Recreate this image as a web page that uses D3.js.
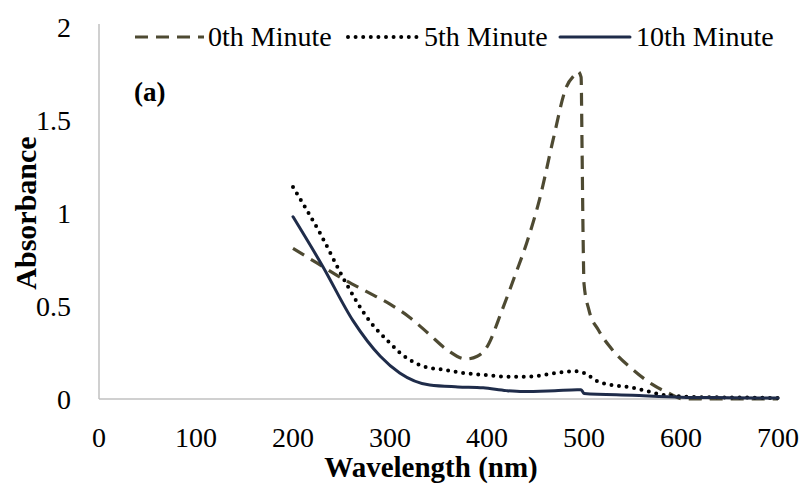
<!DOCTYPE html>
<html>
<head>
<meta charset="utf-8">
<script src="https://cdn.jsdelivr.net/npm/d3@7"></script>
<style>
  body { margin: 0; background: #fff; }
</style>
</head>
<body>
<svg id="chart"></svg>
<script>
// wavelength (nm) / absorbance
const wl0 = [200, 225, 250, 275, 300, 320, 340, 360, 378, 390, 400, 415, 430, 441, 455, 468, 482, 490, 494, 497, 498, 499, 500, 505, 515, 530, 550, 570, 590, 602, 640, 700];
const abs0 = [0.81, 0.73, 0.65, 0.58, 0.51, 0.44, 0.35, 0.26, 0.215, 0.23, 0.28, 0.47, 0.68, 0.84, 1.09, 1.39, 1.68, 1.74, 1.76, 1.73, 1.35, 0.9, 0.62, 0.48, 0.37, 0.26, 0.16, 0.08, 0.025, 0.0, 0.0, 0.0];

const wl5 = [200, 228, 255, 276, 300, 310, 338, 352, 375, 396, 420, 441, 472, 490, 500, 516, 551, 585, 620, 660, 700];
const abs5 = [1.14, 0.89, 0.62, 0.44, 0.30, 0.25, 0.17, 0.16, 0.14, 0.13, 0.12, 0.12, 0.14, 0.15, 0.14, 0.09, 0.06, 0.02, 0.01, 0.008, 0.005];

const wl10 = [200, 231, 262, 290, 310, 341, 370, 396, 420, 437, 470, 493, 497, 500, 550, 600, 650, 700];
const abs10 = [0.98, 0.71, 0.42, 0.23, 0.14, 0.075, 0.065, 0.06, 0.045, 0.04, 0.045, 0.05, 0.05, 0.03, 0.02, 0.01, 0.007, 0.005];

const seriesNames = ["0th Minute", "5th Minute", "10th Minute"];
const xTicks = [0, 100, 200, 300, 400, 500, 600, 700];
const yTicks = [0, 0.5, 1, 1.5, 2];

const width = 805, height = 486;
const svg = d3.select("#chart")
  .attr("width", width).attr("height", height)
  .attr("font-family", "Liberation Serif");

const x = d3.scaleLinear().domain([0, 700]).range([99, 778]);
const y = d3.scaleLinear().domain([0, 2]).range([399, 27]);

const styles = [
  { color: "#4e4a32", dash: "13,8", width: 3.2, cap: "butt" },
  { color: "#000000", dash: "0,7.6", width: 4, cap: "round" },
  { color: "#1f2c4a", dash: null, width: 3, cap: "round" }
];

const series = [
  wl0.map((w, i) => [w, abs0[i]]),
  wl5.map((w, i) => [w, abs5[i]]),
  wl10.map((w, i) => [w, abs10[i]])
];

// axes lines (no ticks)
svg.append("line")
  .attr("x1", x(0)).attr("x2", x(0))
  .attr("y1", 24).attr("y2", y(0))
  .attr("stroke", "#c0c0c0").attr("stroke-width", 1.5);
svg.append("line")
  .attr("x1", x(0)).attr("x2", x(700))
  .attr("y1", y(0)).attr("y2", y(0))
  .attr("stroke", "#c0c0c0").attr("stroke-width", 1.5);

svg.selectAll("text.xtick")
  .data(xTicks)
  .enter().append("text")
  .attr("class", "xtick")
  .attr("x", d => x(d))
  .attr("y", 447)
  .attr("text-anchor", "middle")
  .attr("font-size", 28)
  .text(d => d);

svg.selectAll("text.ytick")
  .data(yTicks)
  .enter().append("text")
  .attr("class", "ytick")
  .attr("x", 71)
  .attr("y", d => y(d))
  .attr("dy", "0.35em")
  .attr("text-anchor", "end")
  .attr("font-size", 28)
  .text(d => d);

const line = d3.line()
  .x(d => x(d[0]))
  .y(d => y(d[1]))
  .curve(d3.curveMonotoneX);

series.forEach((s, i) => {
  const st = styles[i];
  svg.append("path")
    .datum(s)
    .attr("fill", "none")
    .attr("stroke", st.color)
    .attr("stroke-width", st.width)
    .attr("stroke-linecap", st.cap)
    .attr("stroke-linejoin", "round")
    .attr("stroke-dasharray", st.dash)
    .attr("d", line);
});

// legend
const legendItems = [
  { x1: 135, x2: 204, tx: 208 },
  { x1: 348, x2: 418, tx: 424 },
  { x1: 560, x2: 630, tx: 636 }
];
legendItems.forEach((it, i) => {
  const st = styles[i];
  svg.append("line")
    .attr("x1", it.x1).attr("x2", it.x2)
    .attr("y1", 37).attr("y2", 37)
    .attr("stroke", st.color)
    .attr("stroke-width", st.width)
    .attr("stroke-linecap", st.cap)
    .attr("stroke-dasharray", st.dash);
  svg.append("text")
    .attr("x", it.tx).attr("y", 46)
    .attr("font-size", 28)
    .text(seriesNames[i]);
});

svg.append("text")
  .attr("x", 134).attr("y", 101)
  .attr("font-size", 27).attr("font-weight", "bold")
  .text("(a)");

svg.append("text")
  .attr("x", 431).attr("y", 477)
  .attr("text-anchor", "middle")
  .attr("font-size", 29).attr("font-weight", "bold")
  .text("Wavelength (nm)");

svg.append("text")
  .attr("transform", "translate(36,213) rotate(-90)")
  .attr("text-anchor", "middle")
  .attr("font-size", 30).attr("font-weight", "bold")
  .text("Absorbance");
</script>
</body>
</html>
